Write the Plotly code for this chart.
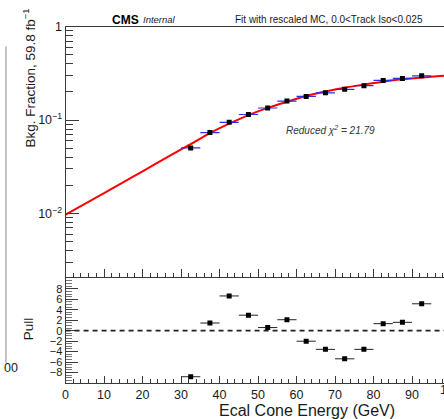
import plotly.graph_objects as go

W, H = 444, 419

# ---- data ----
bin_centers = [32.5, 37.5, 42.5, 47.5, 52.5, 57.5, 62.5, 67.5, 72.5, 77.5, 82.5, 87.5, 92.5]
bin_half_width = 2.5
bkg_fraction = [0.0504, 0.0735, 0.0946, 0.1148, 0.1347, 0.1596, 0.179, 0.196, 0.2135,
                0.2335, 0.2656, 0.279, 0.2976]
fit_x = [0, 10, 20, 30, 32.5, 37.5, 42.5, 47.5, 52.5, 57.5, 62.5, 67.5, 72.5, 77.5,
         82.5, 87.5, 92.5, 100]
fit_y = [0.0097, 0.0165, 0.0283, 0.0486, 0.0553, 0.0725, 0.0915, 0.113, 0.135, 0.157,
         0.181, 0.202, 0.222, 0.240, 0.258, 0.273, 0.286, 0.302]
pull = [-8.82, 1.46, 6.64, 2.96, 0.59, 2.09, -2.02, -3.58, -5.39, -3.58, 1.34, 1.59, 5.14]

x_ticks = [0, 10, 20, 30, 40, 50, 60, 70, 80, 90]
y_log_ticks = [0.01, 0.1, 1]
y_log_ticktext = ["10<sup>\u22122</sup>", "10<sup>\u22121</sup>", "1"]
y_log_minor = [m * d for d in (0.001, 0.01, 0.1) for m in range(2, 10)]
pull_ticks = [-8, -6, -4, -2, 0, 2, 4, 6, 8]

FONT = "Liberation Sans, Arial, Helvetica, sans-serif"
AX = "#3a3a3a"
TXT = "#1a1a1a"

# pixel layout helpers
left_px = 63
x_max = 98.3
top_y0, top_y1 = 20, 275
pull_y0, pull_y1 = 276, 382.3


def px(x):
    return x / W


def py(y):
    return 1 - y / H


xdom = [px(left_px), 1.0]

fig = go.Figure()

# fit curve (top)
fig.add_trace(go.Scatter(
    x=fit_x, y=fit_y, mode="lines", line=dict(color="#ff0000", width=2, shape="spline"),
    xaxis="x", yaxis="y", hoverinfo="skip", showlegend=False))

# data points (top)
fig.add_trace(go.Scatter(
    x=bin_centers, y=bkg_fraction, mode="markers",
    marker=dict(symbol="square", size=5, color="black"),
    error_x=dict(type="constant", value=bin_half_width, color="#2f2fe8", thickness=1.2, width=0),
    xaxis="x", yaxis="y", showlegend=False))

# pull points
fig.add_trace(go.Scatter(
    x=bin_centers, y=pull, mode="markers",
    marker=dict(symbol="square", size=5, color="black"),
    error_x=dict(type="constant", value=bin_half_width, color="#222222", thickness=1, width=0),
    xaxis="x2", yaxis="y2", showlegend=False))

# zero dashed line in pull panel
fig.add_shape(type="line", xref="x2 domain", yref="y2", x0=0, x1=1, y0=0, y1=0,
              line=dict(color="#222222", width=1.6, dash="5px,4px"))

axis_common = dict(showline=True, linecolor=AX, linewidth=1, ticks="inside", tickcolor=AX,
                   tickwidth=1, showgrid=False, zeroline=False,
                   tickfont=dict(family=FONT, size=12.5, color=TXT))

fig.update_layout(
    width=W, height=H, margin=dict(l=0, r=0, t=0, b=0),
    paper_bgcolor="white", plot_bgcolor="white",
    showlegend=False,
    xaxis=dict(domain=xdom, anchor="y", range=[0, x_max], mirror=True,
               tickvals=x_ticks, showticklabels=False, ticklen=8,
               minor=dict(dtick=2, ticklen=4, ticks="inside", tickcolor=AX),
               **{k: v for k, v in axis_common.items() if k != "tickfont"}),
    yaxis=dict(domain=[py(top_y1), py(top_y0)], anchor="x", type="log",
               range=[-2.684, 0], tickvals=y_log_ticks, ticktext=y_log_ticktext, ticklen=13,
               minor=dict(tickmode="array", tickvals=y_log_minor, ticklen=7, ticks="inside",
                          tickcolor=AX),
               **axis_common),
    xaxis2=dict(domain=xdom, anchor="y2", range=[0, x_max], mirror=True,
                tickvals=x_ticks, ticklen=7,
                minor=dict(dtick=2, ticklen=4, ticks="inside", tickcolor=AX),
                **axis_common),
    yaxis2=dict(domain=[py(pull_y1), py(pull_y0)], anchor="x2", range=[-10, 10],
                tickvals=pull_ticks, ticklen=12,
                minor=dict(dtick=0.5, ticklen=6, ticks="inside", tickcolor="#777777"),
                **{**axis_common, "tickfont": dict(family=FONT, size=11, color=TXT)}),
)


def label(x, y, text, size, color=TXT, angle=0, xanchor="center"):
    return dict(x=x, y=y, xref="paper", yref="paper", text=text, showarrow=False,
                xanchor=xanchor, yanchor="middle", textangle=angle,
                font=dict(family=FONT, size=size, color=color))


ann = [
    # partial "100" at right edge (cropped in the reference)
    label(xdom[0] + (100 / x_max) * (xdom[1] - xdom[0]), py(390), "100", 12.5),
    label(px(123), py(13), "<b>CMS</b>", 12, color="black"),
    label(px(158), py(13), "<i>Internal</i>", 9.5),
    label(px(328), py(13), "Fit with rescaled MC, 0.0&lt;Track Iso&lt;0.025", 10),
    label(px(330), py(125), "<i>Reduced \u03c7<sup>2</sup> = 21.79</i>", 10, color="#333333"),
    label(px(26), py(72), "Bkg. Fraction, 59.8 fb<sup>\u22121</sup>", 13.5, angle=-90),
    label(px(26), py(327), "Pull", 13.5, angle=-90),
    label(px(306), py(410), "Ecal Cone Energy (GeV)", 16),
    # remnant of neighbouring panel on the left edge
    label(px(-1), py(367), "00", 12.5, xanchor="left"),
]
fig.update_layout(annotations=ann)

fig.add_shape(type="line", xref="paper", yref="paper", x0=px(3), x1=px(3), y0=py(362),
              y1=py(40), line=dict(color="#888888", width=1))

fig.write_html("out.html", config={"displayModeBar": False},
               post_script="document.body.style.margin='0';")
